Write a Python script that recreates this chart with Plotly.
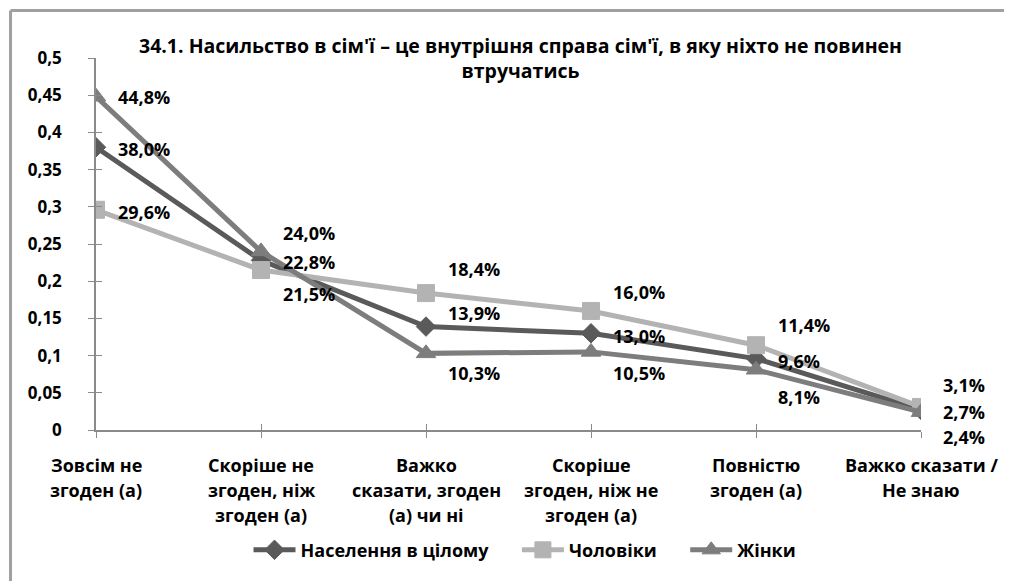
import plotly.graph_objects as go

# дані
categories = ["Зовсім не<br>згоден (а)",
              "Скоріше не<br>згоден, ніж<br>згоден (а)",
              "Важко<br>сказати, згоден<br>(а) чи ні",
              "Скоріше<br>згоден, ніж не<br>згоден (а)",
              "Повністю<br>згоден (а)",
              "Важко сказати /<br>Не знаю"]
population = [0.380, 0.228, 0.139, 0.130, 0.096, 0.027]
men = [0.296, 0.215, 0.184, 0.160, 0.114, 0.031]
women = [0.448, 0.240, 0.103, 0.105, 0.081, 0.024]

title = "34.1. Насильство в сім'ї – це внутрішня справа сім'ї, в яку ніхто не повинен<br>втручатись"

# зсув підписів (px, вгору +)
shift_pop = [-2, -2, 14, -3, -2, -2]
shift_men = [-2, -24, 24, 19, 20, 22]
shift_women = [0, 18, -20, -21, -27, -25]

FONT = "Open Sans"
NB = "\u00a0"
AX = "#8a8a8a"

series = [
    ("Населення в цілому", population, "#5a5a5a", "diamond", 15, shift_pop, 5),
    ("Чоловіки", men, "#b3b3b3", "square", 17, shift_men, 5),
    ("Жінки", women, "#7d7d7d", "triangle-up", 17, shift_women, 0),
]

fig = go.Figure()
annots = []
for name, vals, col, sym, msize, shifts, pad in series:
    fig.add_trace(go.Scatter(
        x=categories, y=vals, name=name + NB * pad, mode="lines+markers",
        line=dict(color=col, width=5),
        marker=dict(symbol=sym, size=msize, color=col, line=dict(color=col, width=1)),
    ))
    for c, v, s in zip(categories, vals, shifts):
        annots.append(dict(x=c, y=v, xref="x", yref="y",
                           text=("%.1f%%" % (v * 100)).replace(".", ","),
                           showarrow=False, xanchor="left", yanchor="middle",
                           xshift=20, yshift=s,
                           font=dict(family=FONT, size=18, color="black", weight="bold")))

# невидима копія для другої пари осей (тики всередину)
fig.add_trace(go.Scatter(x=categories, y=population, xaxis="x2", yaxis="y2",
                         mode="lines", opacity=0, showlegend=False, hoverinfo="skip"))

# підписи категорій: по рядку, щоб інтервал був як в Excel
for c in categories:
    for i, line in enumerate(c.split("<br>")):
        annots.append(dict(x=c, y=0, xref="x", yref="paper", text=line,
                           showarrow=False, xanchor="center", yanchor="middle",
                           yshift=-35 - 25 * i,
                           font=dict(family=FONT, size=18, color="black", weight="bold")))

annots.append(dict(x=0.514, y=0.999, xref="paper", yref="paper", text=title,
                   showarrow=False, xanchor="center", yanchor="middle",
                   font=dict(family=FONT, size=19.5, color="black", weight="bold")))

frame = dict(color="#a0a0a0", width=3)
fig.update_layout(
    width=1004, height=573,
    margin=dict(l=88, r=91, t=50, b=151),
    paper_bgcolor="white", plot_bgcolor="white",
    separators=", ",
    font=dict(family=FONT, size=16, color="black", weight="bold"),
    showlegend=True,
    legend=dict(orientation="h", x=0.52, xanchor="center", y=-0.323, yanchor="middle",
                itemwidth=42,
                font=dict(family=FONT, size=18, color="black", weight="bold")),
    annotations=annots,
    shapes=[dict(type="line", xref="paper", yref="paper",
                 x0=-0.1036, x1=1.12, y0=1.1277, y1=1.1277, line=frame),
            dict(type="line", xref="paper", yref="paper",
                 x0=-0.1036, x1=-0.1036, y0=-0.42, y1=1.1277, line=frame)],
    xaxis=dict(type="category", range=[0, 5], showgrid=False, zeroline=False,
               showline=True, linecolor=AX, linewidth=1.5, automargin=False,
               ticks="outside", ticklen=6, tickcolor=AX, showticklabels=False),
    yaxis=dict(range=[0, 0.5], dtick=0.05, showgrid=False, zeroline=False,
               showline=True, linecolor=AX, linewidth=1.5, automargin=False,
               ticks="outside", ticklen=6, tickcolor=AX,
               ticklabelstandoff=23,
               tickfont=dict(family=FONT, size=17, weight="bold")),
    xaxis2=dict(overlaying="x", anchor="y2", type="category", range=[0, 5],
                showgrid=False, zeroline=False, showline=False, automargin=False,
                ticks="inside", ticklen=6, tickcolor=AX, showticklabels=False),
    yaxis2=dict(overlaying="y", anchor="x2", side="left", range=[0, 0.5], dtick=0.05,
                showgrid=False, zeroline=False, showline=False, automargin=False,
                ticks="inside", ticklen=6, tickcolor=AX, showticklabels=False),
)

fig.write_html("out.html")
